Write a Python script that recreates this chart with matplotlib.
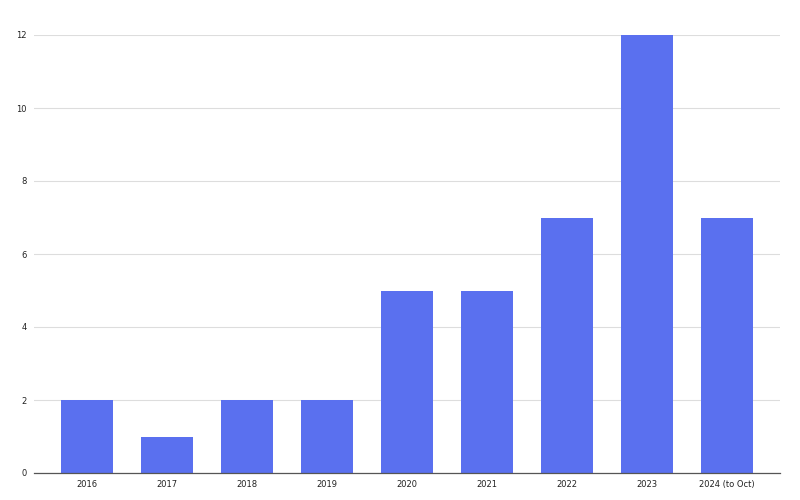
import matplotlib
matplotlib.use('Agg')
import matplotlib.pyplot as plt

# Data
years = ['2016', '2017', '2018', '2019', '2020', '2021', '2022', '2023', '2024 (to Oct)']
counts = [2, 1, 2, 2, 5, 5, 7, 12, 7]
y_ticks = [0, 2, 4, 6, 8, 10, 12]

fig = plt.figure(figsize=(8, 5), dpi=100)
ax = fig.add_axes([0.0425, 0.054, 0.9325, 0.876])

ax.bar(range(len(years)), counts, width=0.65, color='#5A70EF', zorder=3)

ax.set_xlim(-0.66, len(years) - 1 + 0.66)
ax.set_ylim(0, 12)
ax.set_xticks(range(len(years)))
ax.set_xticklabels(years, fontsize=6, color='#222222')
ax.set_yticks(y_ticks)
ax.set_yticklabels([str(v) for v in y_ticks], fontsize=6, color='#222222')
ax.tick_params(length=0, pad=5)

ax.grid(axis='y', color='#dddddd', linewidth=0.8, zorder=0)
for s in ['top', 'right', 'left']:
    ax.spines[s].set_visible(False)
ax.spines['bottom'].set_color('#555555')
ax.spines['bottom'].set_linewidth(0.9)
ax.spines['bottom'].set_zorder(4)

fig.savefig('out.png', dpi=100)
